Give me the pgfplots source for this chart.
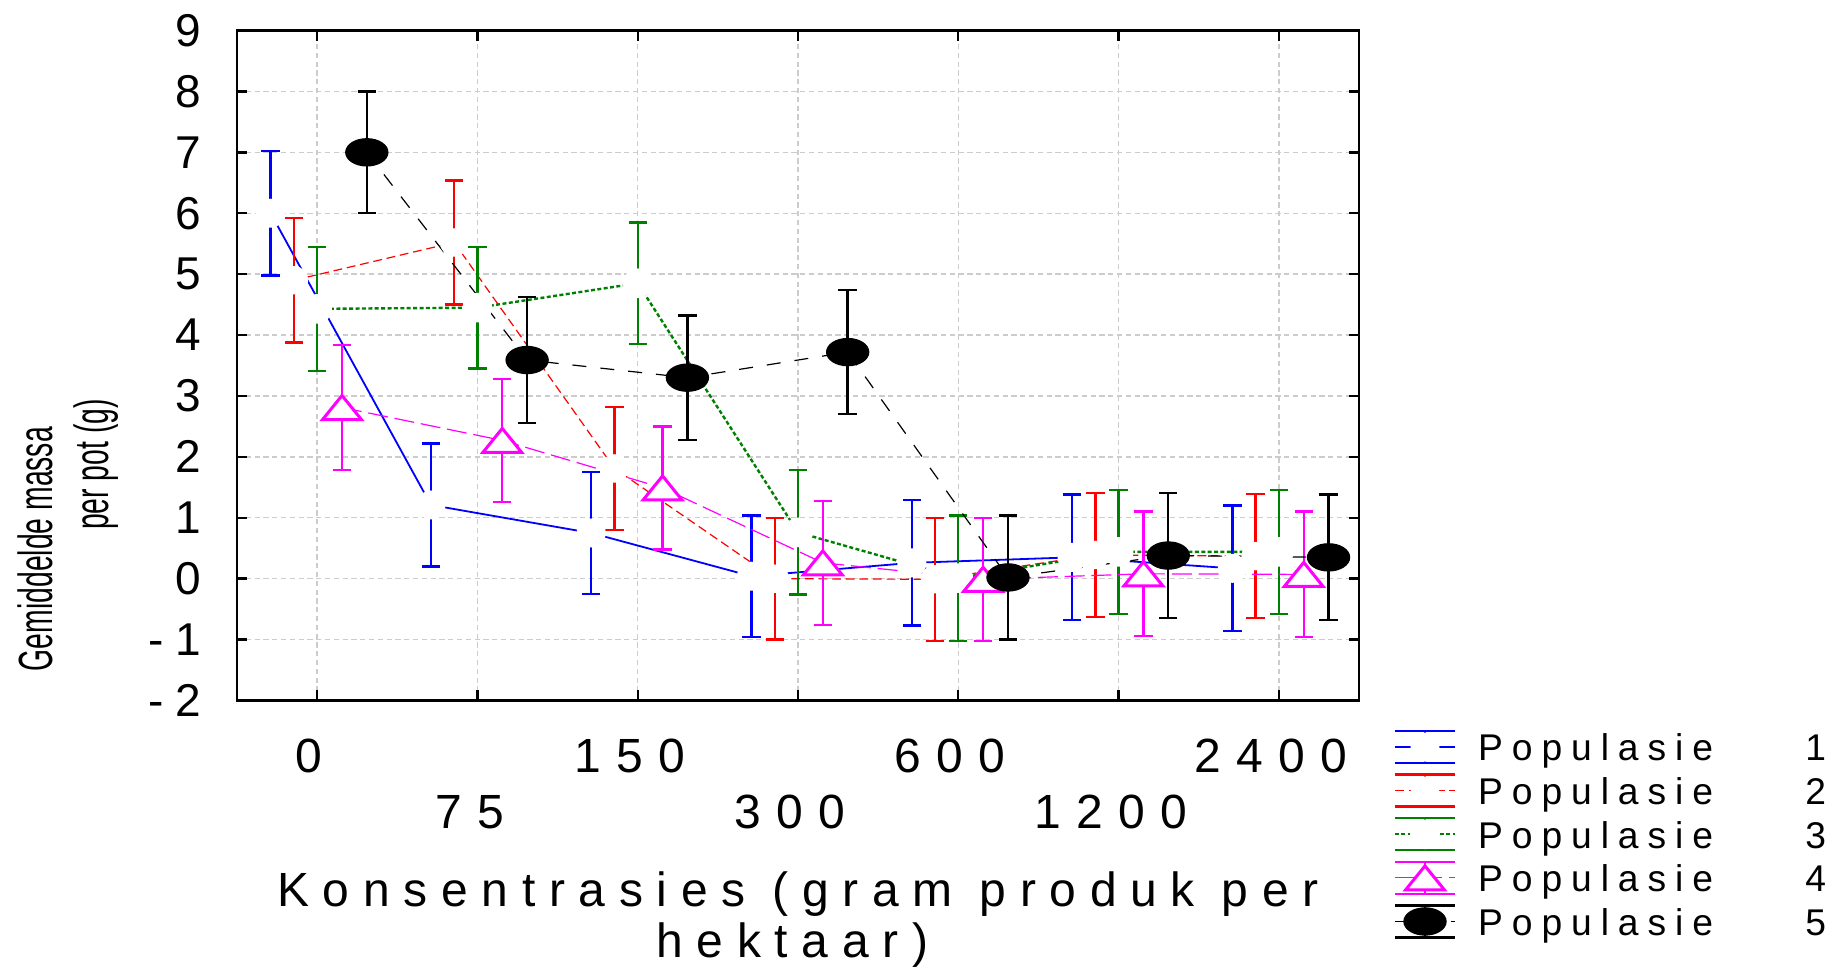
\documentclass[border=0pt]{standalone}
\usepackage{graphicx}
\usepackage{pgfplots}
\pgfplotsset{compat=1.18}
\usepackage{pgfplotstable}
\usepackage{fontspec}
\setmainfont{Liberation Sans}
\newfontfamily\lsx[LetterSpace=32]{Liberation Sans}
\newfontfamily\lsl[LetterSpace=24]{Liberation Sans}
\newfontfamily\lsa[LetterSpace=28.5]{Liberation Sans}
\definecolor{popblue}{RGB}{0,0,255}
\definecolor{popred}{RGB}{255,0,0}
\definecolor{popgreen}{RGB}{0,128,0}
\definecolor{popmag}{RGB}{255,0,255}

\pgfplotstableread{
x y e
-0.29 6.00 1.02
0.71 1.21 1.01
1.71 0.75 1.00
2.71 0.04 1.00
3.71 0.26 1.03
4.71 0.35 1.03
5.71 0.17 1.03
}\popA
\pgfplotstableread{
x y e
-0.145 4.90 1.02
0.855 5.52 1.02
1.855 1.81 1.01
2.855 0.00 1.00
3.855 -0.01 1.01
4.855 0.39 1.02
5.855 0.37 1.02
}\popB
\pgfplotstableread{
x y e
0.00 4.43 1.02
1.00 4.45 1.00
2.00 4.85 1.00
3.00 0.76 1.02
4.00 0.01 1.03
5.00 0.44 1.02
6.00 0.44 1.02
}\popC
\pgfplotstableread{
x y e
0.155 2.81 1.03
1.155 2.27 1.01
2.155 1.49 1.01
3.155 0.26 1.02
4.155 -0.01 1.01
5.155 0.08 1.02
6.155 0.07 1.03
}\popD
\pgfplotstableread{
x y e
0.31 7.00 1.00
1.31 3.59 1.03
2.31 3.30 1.02
3.31 3.72 1.02
4.31 0.02 1.02
5.31 0.38 1.03
6.31 0.35 1.03
}\popE

\newcommand\lgd[1]{\makebox[87pt][l]{Populasie\hfill #1}}

\begin{document}
\begin{tikzpicture}
\begin{axis}[
  at={(0,0)}, anchor=south west,
  scale only axis, width=280.5pt, height=167.5pt,
  clip=false,
  xmin=-0.5, xmax=6.5, ymin=-2, ymax=9,
  xtick={0,1,2,3,4,5,6},
  xticklabels={0,\raisebox{-14pt}{75},150,\raisebox{-14pt}{300},600,\raisebox{-14pt}{1200},2400},
  ytick={-2,-1,0,1,2,3,4,5,6,7,8,9},
  yticklabels={-\hspace{3pt}2,-\hspace{3pt}1,0,1,2,3,4,5,6,7,8,9},
  xticklabel style={font=\lsx\fontsize{12}{14}\selectfont, anchor=base, inner sep=0pt, yshift=-18pt, xshift=-2pt},
  yticklabel style={font=\fontsize{11.5}{13}\selectfont, anchor=east, inner sep=0pt, xshift=-8.75pt},
  tick align=inside, xtick pos=both, ytick pos=both,
  major tick length=2.6pt,
  every tick/.style={black, line width=0.6pt},
  axis line style={line width=0.7pt},
  xmajorgrids, ymajorgrids,
  major grid style={black!20, dash pattern=on 1.3pt off 0.9pt, line width=0.35pt},
  legend style={at={(rel axis cs:1.031,-0.037)}, anchor=north west, draw=none, fill=none,
    inner sep=0pt, outer sep=0pt, row sep=0pt, column sep=5.5pt,
    font=\lsl\fontsize{9.3}{11}\selectfont,
    nodes={inner sep=0pt, text height=8.9pt, text depth=2pt}},
  legend cell align=left,
  legend image code/.code={
    \draw[solid, line width=0.6pt] (0pt,4pt) -- (15pt,4pt) (7.5pt,4pt) -- (7.5pt,2.6pt)
      (0pt,-4pt) -- (15pt,-4pt) (7.5pt,-4pt) -- (7.5pt,-2.6pt);
    \draw[mark repeat=2, mark phase=2] plot coordinates {(0pt,0pt) (7.5pt,0pt) (15pt,0pt)};
  },
  error bars/error bar style={solid, line width=0.6pt},
  error bars/error mark options={solid, line width=0.6pt, mark size=2.3pt, rotate=90},
]
\addplot[popblue, line width=0.45pt, mark=*, mark size=3.4pt, mark options={fill=white, draw=white, solid},
  error bars/.cd, y dir=both, y explicit] table[x=x, y=y, y error=e] {\popA};
\addlegendentry{\lgd{1}}
\addplot[popred, line width=0.3pt, dash pattern=on 2.2pt off 1.2pt, mark=*, mark size=3.4pt, mark options={fill=white, draw=white, solid},
  error bars/.cd, y dir=both, y explicit] table[x=x, y=y, y error=e] {\popB};
\addlegendentry{\lgd{2}}
\addplot[popgreen, line width=0.6pt, dash pattern=on 1pt off 0.6pt, mark=*, mark size=3.4pt, mark options={fill=white, draw=white, solid},
  error bars/.cd, y dir=both, y explicit] table[x=x, y=y, y error=e] {\popC};
\addlegendentry{\lgd{3}}
\addplot[popmag, line width=0.3pt, dash pattern=on 5pt off 1.7pt, mark=triangle*, mark size=4pt, mark options={fill=white, draw=popmag, line width=0.75pt, xscale=1.4, yshift=-1pt, solid},
  error bars/.cd, y dir=both, y explicit] table[x=x, y=y, y error=e] {\popD};
\addlegendentry{\lgd{4}}
\addplot[black, line width=0.3pt, dash pattern=on 3.5pt off 3.5pt, mark=*, mark size=3.4pt, mark options={fill=black, xscale=1.55, solid},
  error bars/.cd, y dir=both, y explicit] table[x=x, y=y, y error=e] {\popE};
\addlegendentry{\lgd{5}}

\node[font=\lsa\fontsize{12}{14}\selectfont, anchor=center] at (rel axis cs:0.5,-0.2887) {Konsentrasies (gram produk per};
\node[font=\lsa\fontsize{12}{14}\selectfont, anchor=center] at (rel axis cs:0.495,-0.365) {hektaar)};
\node[rotate=90, font=\fontsize{12}{14}\selectfont, anchor=center] at (rel axis cs:-0.180,0.226) {\scalebox{0.59}[1]{Gemiddelde massa}};
\node[rotate=90, font=\fontsize{12}{14}\selectfont, anchor=center] at (rel axis cs:-0.1257,0.352) {\scalebox{0.59}[1]{per pot (g)}};
\end{axis}
\pgfresetboundingbox
\path (-59.25pt,-67.875pt) rectangle (400.75pt,175.125pt);
\end{tikzpicture}
\end{document}
